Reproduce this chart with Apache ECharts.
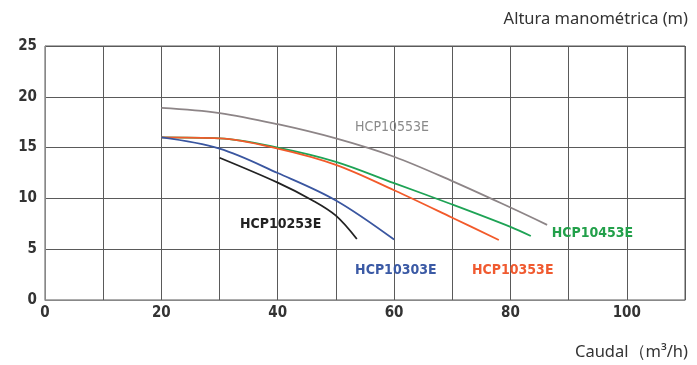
<!DOCTYPE html>
<html><head><meta charset="utf-8">
<script src="https://cdn.jsdelivr.net/npm/echarts@6/dist/echarts.min.js"></script>
<style>html,body{margin:0;padding:0;background:#fff}#c{width:697px;height:365px}</style>
</head><body><div id="c"></div>
<script>
const xTicks = [0, 20, 40, 60, 80, 100];
const yTicks = [0, 5, 10, 15, 20, 25];
const hcp10553 = [[20,18.9],[30,18.4],[40,17.3],[50,15.9],[60,14.1],[70,11.7],[80,9.1],[86.3,7.4]];
const hcp10453 = [[20,16.0],[30,15.9],[40,15.0],[50,13.6],[60,11.5],[70,9.4],[80,7.2],[83.5,6.3]];
const hcp10353 = [[20,16.0],[30,15.9],[40,14.9],[50,13.3],[60,10.8],[70,8.1],[78,5.9]];
const hcp10303 = [[20,16.0],[30,14.9],[40,12.5],[50,9.8],[60,5.95]];
const hcp10253 = [[30,14.0],[40,11.55],[46,9.8],[50,8.3],[53.6,6.0]];
const seriesNames = ['HCP10553E','HCP10453E','HCP10353E','HCP10303E','HCP10253E'];
const labelPos = [[53.3,17.0],[87.1,6.6],[73.4,2.95],[53.3,2.95],[33.5,7.4]];

const colors = ['#8d8587','#1ea355','#f25a2a','#3a56a0','#222222'];
const labelColors = ['#8a8a8a','#22a04a','#f05a30','#3b5aa5','#222222'];
const datas = [hcp10553,hcp10453,hcp10353,hcp10303,hcp10253];
const chart = echarts.init(document.getElementById('c'));
const condensed = '"DejaVu Sans Condensed", "Roboto", sans-serif';
const tickFont = {fontFamily:condensed, fontWeight:'bold', fontSize:15, color:'#333'};
chart.setOption({
  animation:false,
  grid:{left:45, right:12, top:46, bottom:65, show:true, borderColor:'#5a5a5a', borderWidth:1},
  xAxis:{type:'value', min:0, max:110, interval:10,
    axisLine:{show:true, lineStyle:{color:'#888'}}, axisTick:{show:false},
    axisLabel:Object.assign({margin:6, formatter:v=> xTicks.includes(v)?String(v):''}, tickFont),
    splitLine:{show:true, lineStyle:{color:'#5a5a5a', width:1}}},
  yAxis:{type:'value', min:0, max:25, interval:5,
    axisLine:{show:true, lineStyle:{color:'#888'}}, axisTick:{show:false},
    axisLabel:Object.assign({margin:8, formatter:v=> yTicks.includes(v)?String(v):''}, tickFont),
    splitLine:{show:true, lineStyle:{color:'#5a5a5a', width:1}}},
  graphic:[
    {type:'text', right:9, top:11, style:{text:'Altura manométrica (m)', font:'16.5px "Noto Sans"', fill:'#333'}},
    {type:'text', right:9, top:344, style:{text:'Caudal（m³/h)', font:'16.5px "Noto Sans"', fill:'#333'}}
  ],
  series: datas.map((d,i)=>({
    name:seriesNames[i], type:'line', data:d, smooth:0.35, symbol:'none',
    lineStyle:{color:colors[i], width:1.8}, z:3,
    markPoint:{symbol:'circle', symbolSize:0, silent:true,
      data:[{coord:labelPos[i], value:seriesNames[i]}],
      label:{show:true, position:'right', distance:0, formatter:seriesNames[i], color:labelColors[i],
        fontFamily:condensed, fontSize:14, fontWeight:i===0?'normal':'bold'}}
  }))
});
</script></body></html>
